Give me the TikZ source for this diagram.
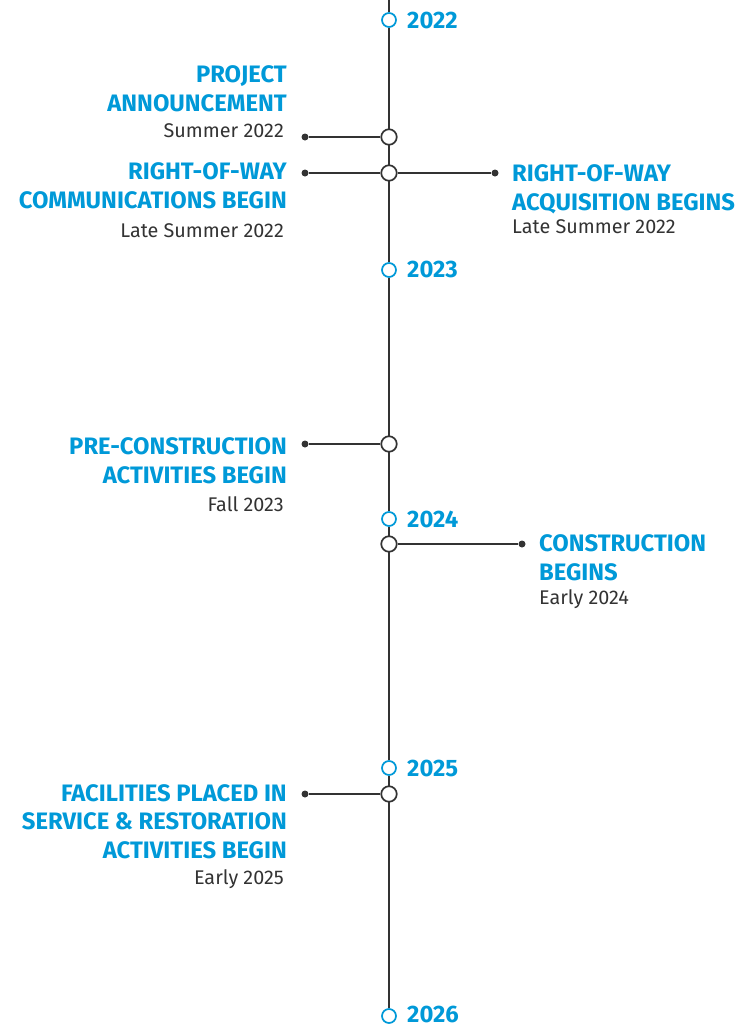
\documentclass[tikz,border=0pt]{standalone}
\usepackage{fontspec}
\setmainfont{Fira Sans}
\newfontfamily\headfam{Fira Sans}[UprightFont=* Bold]
\definecolor{ablue}{HTML}{0099D8}
\definecolor{adark}{HTML}{333333}
\begin{document}
\begin{tikzpicture}[x=1pt,y=-1pt,
  spine/.style={draw=adark,line width=1.9pt},
  yearmark/.style={circle,draw=ablue,fill=white,line width=1.7pt,minimum size=14pt,inner sep=0pt},
  eventmark/.style={circle,draw=adark,fill=white,line width=1.7pt,minimum size=15.5pt,inner sep=0pt},
  enddot/.style={circle,fill=adark,minimum size=7pt,inner sep=0pt},
  link/.style={draw=adark,line width=1.9pt},
  yearlabel/.style={font=\headfam\fontsize{23.8}{28.5}\selectfont,text=ablue,inner sep=0pt,anchor=base west},
  headL/.style={font=\headfam\fontsize{23.8}{28.5}\selectfont,text=ablue,inner sep=0pt,align=right,anchor=base east},
  headR/.style={font=\headfam\fontsize{23.8}{28.5}\selectfont,text=ablue,inner sep=0pt,align=left,anchor=base west},
  dateL/.style={font=\fontsize{19.8}{23}\selectfont,text=adark,inner sep=0pt,anchor=base east},
  dateR/.style={font=\fontsize{19.8}{23}\selectfont,text=adark,inner sep=0pt,anchor=base west}]
\useasboundingbox (0,0) rectangle (750,1026);
% years
\node[yearmark] (y22) at (389,20) {};
\node[yearmark] (y23) at (389,270) {};
\node[yearmark] (y24) at (389,519) {};
\node[yearmark] (y25) at (389,768) {};
\node[yearmark] (y26) at (389,1016) {};
\coordinate (top) at (389,0);
\path[spine] (top) -- (y22) -- (y23) -- (y24) -- (y25) -- (y26);
\node[yearlabel] (l22) at (407,28) {2022};
\node[yearlabel] (l23) at (407,277) {2023};
\node[yearlabel] (l24) at (407,527) {2024};
\node[yearlabel] (l25) at (407,776) {2025};
\node[yearlabel] (l26) at (407,1022) {2026};
% event 1
\node[eventmark] (e1) at (389,137) {};
\node[enddot] (d1) at (305,137) {};
\path[link] (e1) -- (d1);
\node[headL] (h1) at (287,111) {PROJECT\\ANNOUNCEMENT};
\node[dateL] (t1) at (284,137) {Summer 2022};
% event 2
\node[eventmark] (e2) at (389,173) {};
\node[enddot] (d2a) at (305,173) {};
\node[enddot] (d2b) at (495,173) {};
\path[link] (e2) -- (d2a);
\path[link] (e2) -- (d2b);
\node[headL] (h2a) at (287,208) {RIGHT-OF-WAY\\COMMUNICATIONS BEGIN};
\node[dateL] (t2a) at (284,237) {Late Summer 2022};
\node[headR] (h2b) at (512,210) {RIGHT-OF-WAY\\ACQUISITION BEGINS};
\node[dateR] (t2b) at (512,233) {Late Summer 2022};
% event 3
\node[eventmark] (e3) at (389,444) {};
\node[enddot] (d3) at (305,444) {};
\path[link] (e3) -- (d3);
\node[headL] (h3) at (287,483) {PRE-CONSTRUCTION\\ACTIVITIES BEGIN};
\node[dateL] (t3) at (284,511) {Fall 2023};
% event 4
\node[eventmark] (e4) at (389,544) {};
\node[enddot] (d4) at (522,544) {};
\path[link] (e4) -- (d4);
\node[headR] (h4) at (539,580) {CONSTRUCTION\\BEGINS};
\node[dateR] (t4) at (539,604) {Early 2024};
% event 5
\node[eventmark] (e5) at (389,794) {};
\node[enddot] (d5) at (305,794) {};
\path[link] (e5) -- (d5);
\node[headL] (h5) at (287,858) {FACILITIES PLACED IN\\SERVICE \& RESTORATION\\ACTIVITIES BEGIN};
\node[dateL] (t5) at (284,884) {Early 2025};
\end{tikzpicture}
\end{document}
